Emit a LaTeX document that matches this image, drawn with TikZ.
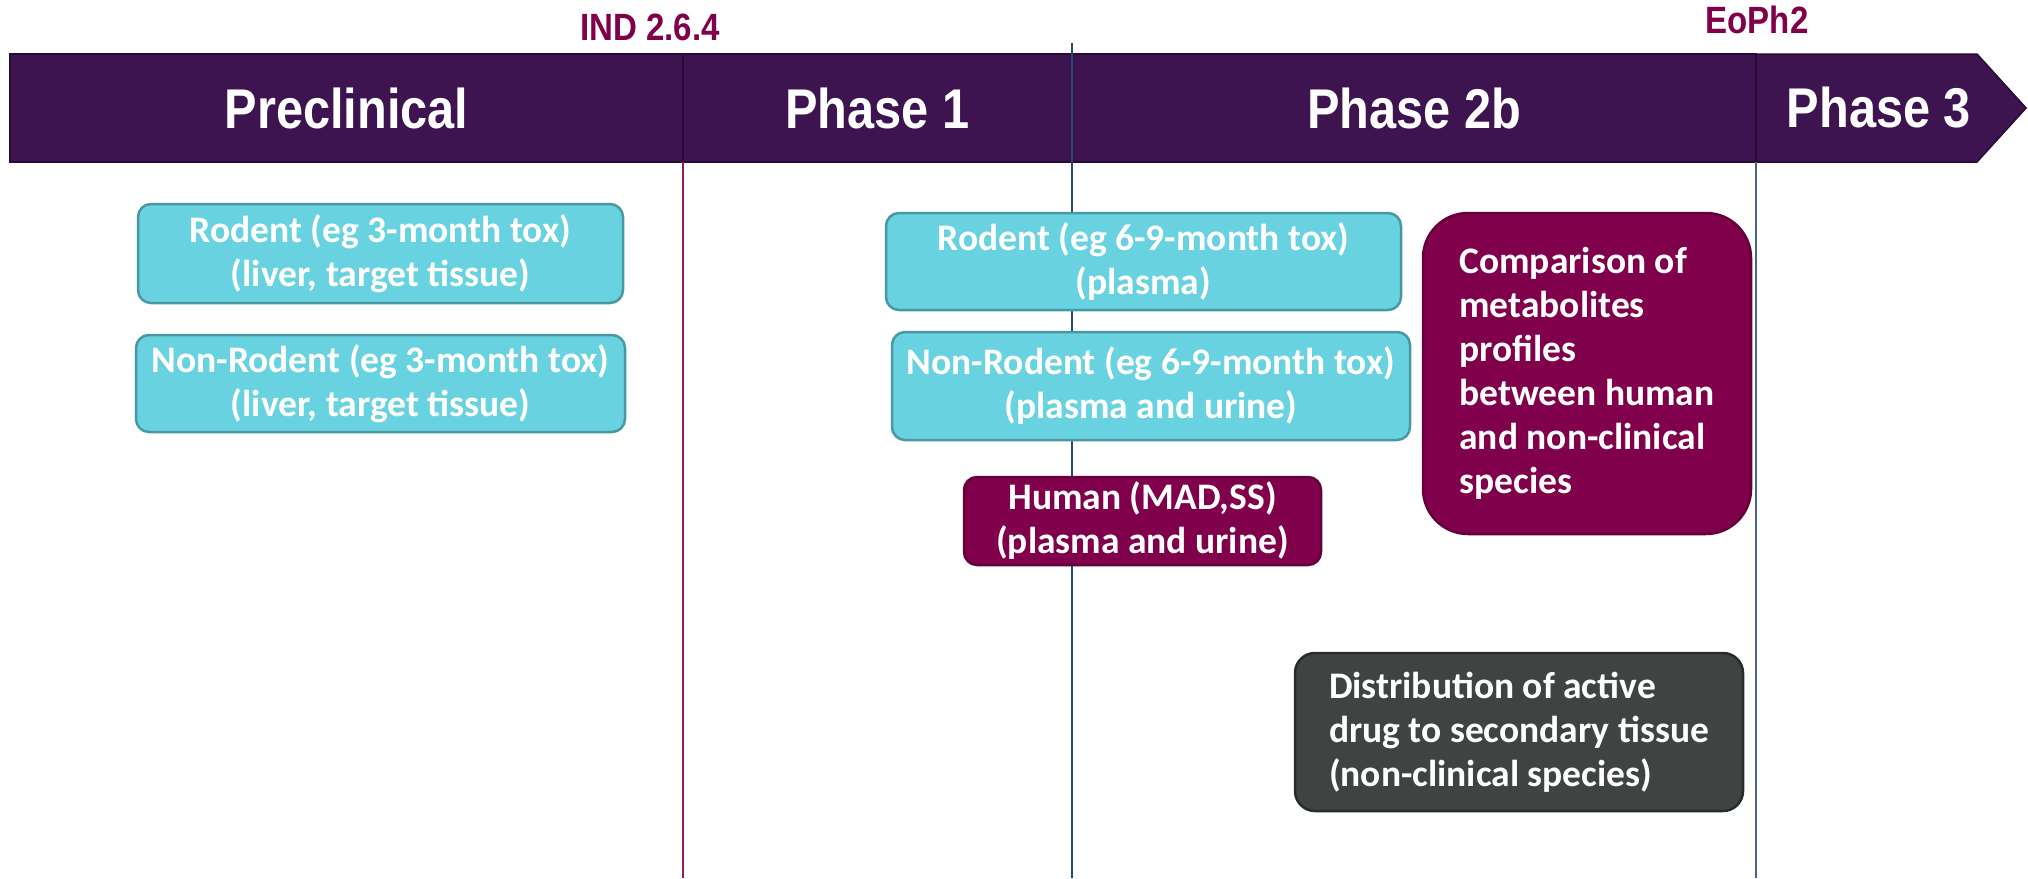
\documentclass[tikz,border=0pt]{standalone}
\usepackage{fontspec}
\setmainfont{Carlito}
\newfontfamily\barfont[FakeStretch=0.87]{Liberation Sans}
\definecolor{barpurple}{RGB}{61,19,80}
\definecolor{barline}{RGB}{40,10,52}
\definecolor{cyanfill}{RGB}{104,210,224}
\definecolor{cyanline}{RGB}{72,152,164}
\definecolor{magfill}{RGB}{128,0,76}
\definecolor{magline}{RGB}{100,0,58}
\definecolor{greyfill}{RGB}{63,68,67}
\definecolor{greyline}{RGB}{40,44,43}
\definecolor{milestone}{RGB}{128,0,76}
\definecolor{linemag}{RGB}{140,30,95}
\definecolor{lineblue}{RGB}{35,75,120}
\begin{document}
\begin{tikzpicture}[x=1pt,y=-1pt,
  seg/.style={rectangle, fill=barpurple, draw=barline, line width=1.5pt, minimum height=108pt, inner sep=0pt, text=white, font=\barfont\bfseries\fontsize{56}{60}\selectfont},
  bartext/.style={inner sep=0pt, text=white, font=\barfont\bfseries\fontsize{56}{60}\selectfont},
  mile/.style={inner sep=0pt, text=milestone, font=\barfont\bfseries\fontsize{38}{42}\selectfont},
  boxbase/.style={rectangle, rounded corners=13pt, line width=2.5pt, text=white, align=center, inner sep=0pt, font=\bfseries\fontsize{37.5}{44}\selectfont},
  cyanbox/.style={boxbase, fill=cyanfill, draw=cyanline},
  magbox/.style={boxbase, fill=magfill, draw=magline},
  greybox/.style={boxbase, fill=greyfill, draw=greyline},
  vline/.style={line width=1.8pt}
]
\useasboundingbox (0,0) rectangle (2028,878);
% vertical lines
\coordinate (l1t) at (683,162);
\coordinate (l1b) at (683,878);
\coordinate (l2t) at (1072,43);
\coordinate (l2b) at (1072,878);
\coordinate (l3t) at (1756,162);
\coordinate (l3b) at (1756,878);
% bar
\node[seg, minimum width=673pt] (pre) at (346.5,108) {Preclinical};
\node[seg, minimum width=389pt] (ph1) at (877.5,108) {Phase 1};
\node[seg, minimum width=684pt] (ph2) at (1414,108) {Phase 2b};
\draw[fill=barpurple, draw=barline, line width=1.5pt] (1756,54) -- (1977,54) -- (2026,108) -- (1977,162) -- (1756,162) -- cycle;
\node[bartext] (ph3) at (1879,108) {Phase 3};
\draw[vline, draw=linemag] (l1t) -- (l1b);
\draw[vline, draw=lineblue] (l2t) -- (l2b);
\draw[vline, draw=lineblue!85!white] (l3t) -- (l3b);
% milestones
\node[mile] (ind) at (650,27) {IND 2.6.4};
\node[mile] (eop) at (1757,20) {EoPh2};
% boxes
\node[cyanbox, minimum width=485pt, minimum height=99pt] (r3) at (380.5,253.5) {Rodent (eg 3-month tox)\\(liver, target tissue)};
\node[cyanbox, minimum width=489pt, minimum height=97pt] (n3) at (380.5,383.5) {Non-Rodent (eg 3-month tox)\\(liver, target tissue)};
\node[cyanbox, minimum width=515pt, minimum height=97pt] (r69) at (1143.5,261.5) {Rodent (eg 6-9-month tox)\\(plasma)};
\node[cyanbox, minimum width=518pt, minimum height=108pt] (n69) at (1151,386) {Non-Rodent (eg 6-9-month tox)\\(plasma and urine)};
\node[magbox, minimum width=357pt, minimum height=88pt] (hum) at (1142.5,521) {Human (MAD,SS)\\(plasma and urine)};
\node[magbox, rounded corners=45pt, align=left, minimum width=328pt, minimum height=321pt] (cmp) at (1587,373.5) {Comparison of\\metabolites\\profiles\\between human\\and non-clinical\\species};
\node[greybox, rounded corners=20pt, align=left, minimum width=448pt, minimum height=158pt] (dst) at (1519,732) {Distribution of active\\drug to secondary tissue\\(non-clinical species)};
\end{tikzpicture}
\end{document}
